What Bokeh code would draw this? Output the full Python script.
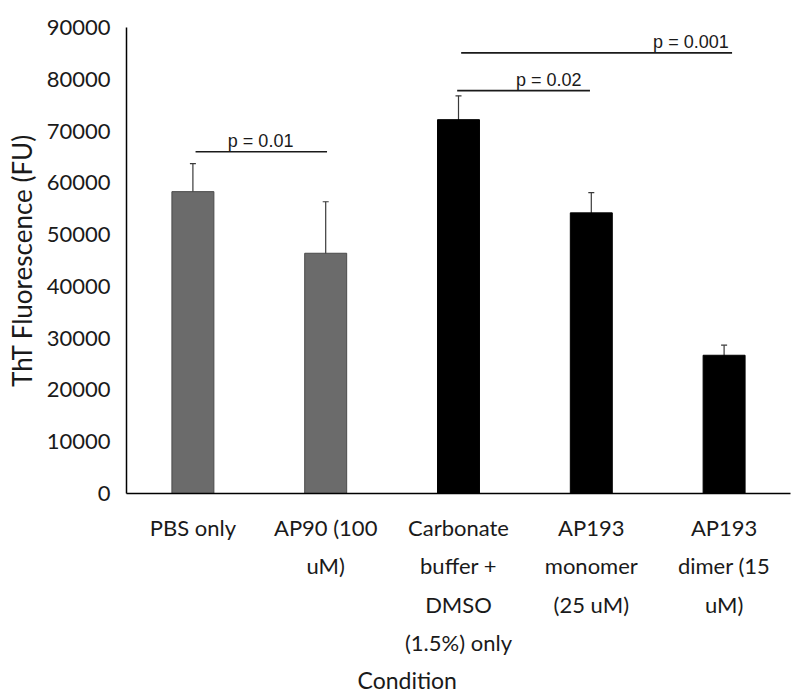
from bokeh.plotting import figure
from bokeh.models import (Range1d, FixedTicker, ColumnDataSource, Whisker, TeeHead, Title)
from bokeh.core.properties import value
from bokeh.embed import file_html
from bokeh.resources import INLINE

categories = ["PBS only", "AP90 (100\nuM)", "Carbonate\nbuffer +\nDMSO\n(1.5%) only",
              "AP193\nmonomer\n(25 uM)", "AP193\ndimer (15\nuM)"]
means = [58300, 46400, 72200, 54200, 26700]
errors = [5400, 9950, 4600, 3900, 1950]
bar_colors = ["#6b6b6b", "#6b6b6b", "#000000", "#000000", "#000000"]
bar_lines = ["#4a4a4a", "#4a4a4a", "#000000", "#000000", "#000000"]
y_ticks = [0, 10000, 20000, 30000, 40000, 50000, 60000, 70000, 80000, 90000]

# significance brackets: (start category index, end category index, height, label, label centre)
bracket_start = [0.02, 1.99, 2.02]
bracket_end = [1.01, 2.99, 4.06]
bracket_y = [66000, 77800, 85100]
bracket_label = ["p = 0.01", "p = 0.02", "p = 0.001"]
label_x = [1.01, 3.18, 4.25]

xs = [i + 0.5 for i in range(len(categories))]

p = figure(width=792, height=699, output_backend="svg", toolbar_location=None,
           x_range=Range1d(0, len(categories)), y_range=Range1d(0, 90000),
           min_border_left=126, min_border_right=2, min_border_top=27, min_border_bottom=206)
p.outline_line_color = None
p.xgrid.visible = False
p.ygrid.visible = False

src = ColumnDataSource(dict(x=xs, top=means, lower=[m - e for m, e in zip(means, errors)],
                            upper=[m + e for m, e in zip(means, errors)],
                            fill=bar_colors, line=bar_lines))
p.vbar(x="x", top="top", width=0.316, fill_color="fill", line_color="line", line_width=1, source=src)

w = Whisker(base="x", lower="lower", upper="upper", source=src, line_color="#3a3a3a", line_width=1.2,
            upper_head=TeeHead(size=6, line_color="#3a3a3a", line_width=1.2),
            lower_head=TeeHead(size=6, line_color="#3a3a3a", line_width=1.2))
p.add_layout(w)

bx0 = [s + 0.5 for s in bracket_start]
bx1 = [e + 0.5 for e in bracket_end]
p.segment(x0=bx0, y0=bracket_y, x1=bx1, y1=bracket_y, line_color="#1a1a1a", line_width=1.6)
p.text(x=label_x, y=bracket_y, text=bracket_label, text_align="center", text_baseline="bottom",
       y_offset=-1, text_font=value("Liberation Sans"), text_font_size="18px", text_color="#1a1a1a")

p.xaxis.ticker = FixedTicker(ticks=xs)
p.xaxis.major_label_overrides = {x: c for x, c in zip(xs, categories)}
p.yaxis.ticker = FixedTicker(ticks=y_ticks)

for ax in (p.xaxis[0], p.yaxis[0]):
    ax.major_tick_line_color = None
    ax.minor_tick_line_color = None
    ax.major_tick_out = 0
    ax.major_tick_in = 0
    ax.axis_line_color = "#000000"
    ax.axis_line_width = 1.5
    ax.major_label_text_font = "Lato"
    ax.major_label_text_font_size = "22px"
    ax.major_label_text_color = "#1a1a1a"
    ax.axis_label_text_font = "Lato"
    ax.axis_label_text_font_style = "normal"
    ax.axis_label_text_color = "#1a1a1a"

p.yaxis.axis_label = "ThT Fluorescence (FU)"
p.yaxis.axis_label_text_font_size = "26px"
p.xaxis.major_label_standoff = 20
p.xaxis.major_label_text_line_height = 1.43
p.yaxis.major_label_standoff = 16
p.yaxis.axis_label_standoff = 6

p.add_layout(Title(text="Condition", align="left", offset=231, text_font="Lato",
                   text_font_size="23px", text_font_style="normal", text_color="#1a1a1a",
                   standoff=8), "below")

open("out.html", "w").write(file_html(p, INLINE))
